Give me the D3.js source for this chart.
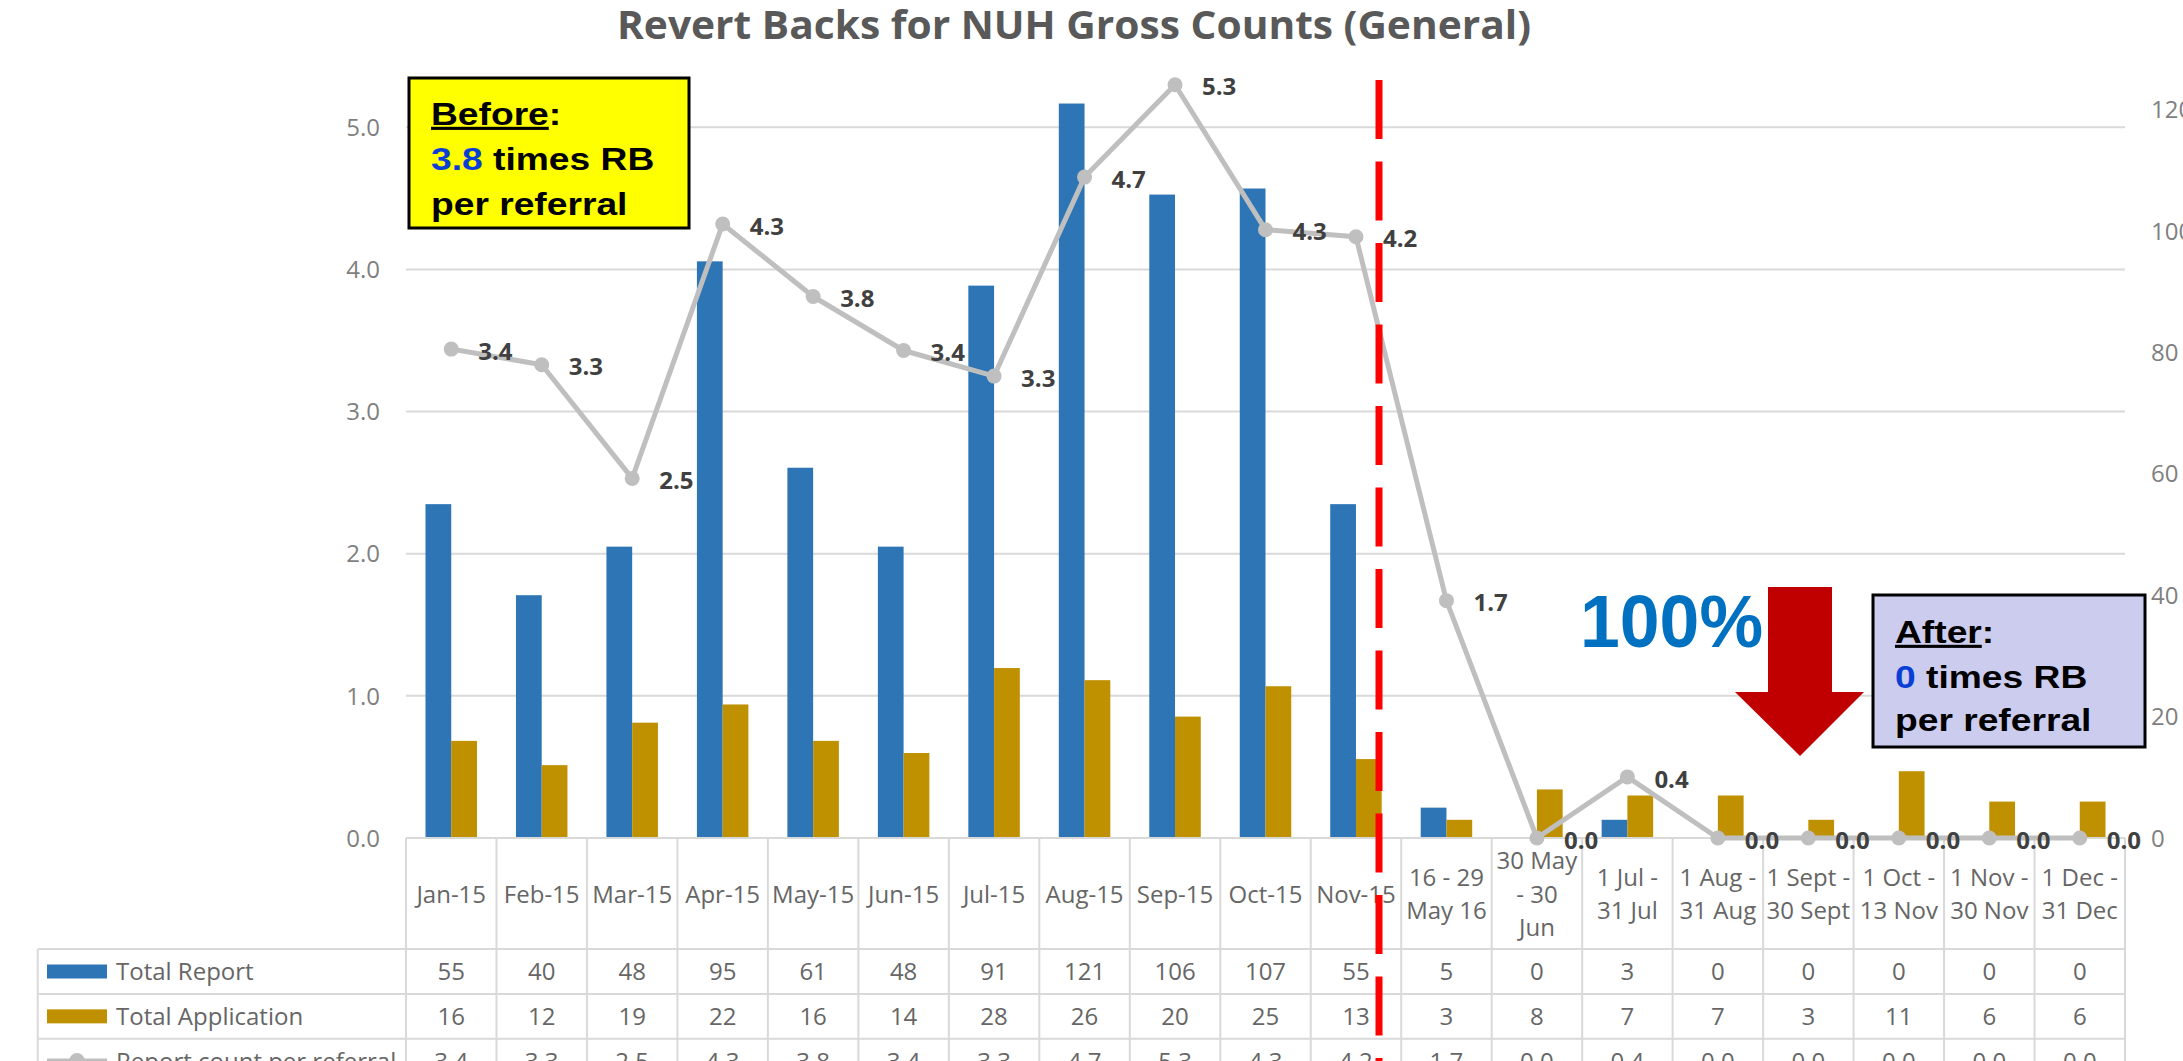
<!DOCTYPE html>
<html>
<head>
<meta charset="utf-8">
<script src="https://cdn.jsdelivr.net/npm/d3@7"></script>
<style>
  html, body { margin: 0; padding: 0; background: #fff; overflow: hidden; }
  svg { display: block; }
</style>
</head>
<body>
<svg id="chart"></svg>
<script>
// Chart data
const categories = [
  ["Jan-15"], ["Feb-15"], ["Mar-15"], ["Apr-15"], ["May-15"], ["Jun-15"],
  ["Jul-15"], ["Aug-15"], ["Sep-15"], ["Oct-15"], ["Nov-15"],
  ["16 - 29", "May 16"], ["30 May", "- 30", "Jun"], ["1 Jul -", "31 Jul"],
  ["1 Aug -", "31 Aug"], ["1 Sept -", "30 Sept"], ["1 Oct -", "13 Nov"],
  ["1 Nov -", "30 Nov"], ["1 Dec -", "31 Dec"]
];
const totalReport = [55, 40, 48, 95, 61, 48, 91, 121, 106, 107, 55, 5, 0, 3, 0, 0, 0, 0, 0];
const totalApplication = [16, 12, 19, 22, 16, 14, 28, 26, 20, 25, 13, 3, 8, 7, 7, 3, 11, 6, 6];
const perReferral = [3.44, 3.33, 2.53, 4.32, 3.81, 3.43, 3.25, 4.65, 5.30, 4.28, 4.23, 1.67, 0, 0.43, 0, 0, 0, 0, 0];
const leftTicks = [0, 1, 2, 3, 4, 5];
const rightTicks = [0, 20, 40, 60, 80, 100, 120];
const seriesNames = ["Total Report", "Total Application", "Report count per referral"];

const W = 2183, H = 1061;
const plotLeft = 406, plotRight = 2125, plotTop = 109.6, plotBottom = 838;
const tableLeft = 37.7;
const rowLines = [949, 994, 1038.7, 1083.4];

const blue = '#2e75b6', gold = '#bf9000', lineGray = '#bfbfbf', gridGray = '#d9d9d9';
const textGray = '#666666';
const tableFont = 'Open Sans, sans-serif';

const svg = d3.select('#chart').attr('width', W).attr('height', H);

// Scales
const x0 = d3.scaleBand()
  .domain(d3.range(categories.length))
  .range([plotLeft, plotRight])
  .paddingInner(0).paddingOuter(0);

const x1 = d3.scaleBand()
  .domain(['report', 'app'])
  .range([0, x0.bandwidth()])
  .paddingInner(0)
  .paddingOuter(0.757);

const yRight = d3.scaleLinear().domain([0, 120]).range([plotBottom, plotTop]);
const yLeft = d3.scaleLinear().domain([0, 5.125]).range([plotBottom, plotTop]);

// Gridlines (left axis)
svg.append('g')
  .selectAll('line')
  .data(leftTicks)
  .enter().append('line')
  .attr('x1', plotLeft).attr('x2', plotRight)
  .attr('y1', d => yLeft(d)).attr('y2', d => yLeft(d))
  .attr('stroke', gridGray).attr('stroke-width', 2);

// Left axis labels
svg.append('g')
  .selectAll('text')
  .data(leftTicks)
  .enter().append('text')
  .attr('x', 380)
  .attr('y', d => yLeft(d))
  .attr('dy', '0.36em')
  .attr('text-anchor', 'end')
  .attr('font-family', tableFont)
  .attr('font-size', 24)
  .attr('fill', '#7f7f7f')
  .text(d => d3.format('.1f')(d));

// Right axis labels (cut off by the page edge)
svg.append('g')
  .selectAll('text')
  .data(rightTicks)
  .enter().append('text')
  .attr('x', 2151)
  .attr('y', d => yRight(d))
  .attr('dy', '0.36em')
  .attr('font-family', tableFont)
  .attr('font-size', 24)
  .attr('fill', '#7f7f7f')
  .text(d => d);

// Bars
const barData = categories.map((c, i) => ({ i, report: totalReport[i], app: totalApplication[i] }));
const groups = svg.append('g')
  .selectAll('g')
  .data(barData)
  .enter().append('g')
  .attr('transform', d => `translate(${x0(d.i)},0)`);

groups.append('rect')
  .attr('x', x1('report'))
  .attr('width', x1.bandwidth())
  .attr('y', d => yRight(d.report))
  .attr('height', d => plotBottom - yRight(d.report))
  .attr('fill', blue);

groups.append('rect')
  .attr('x', x1('app'))
  .attr('width', x1.bandwidth())
  .attr('y', d => yRight(d.app))
  .attr('height', d => plotBottom - yRight(d.app))
  .attr('fill', gold);

// Table grid
const table = svg.append('g').attr('stroke', gridGray).attr('stroke-width', 2);
const bounds = d3.range(categories.length + 1).map(i => plotLeft + i * x0.step());
table.selectAll('.vline')
  .data(bounds)
  .enter().append('line')
  .attr('x1', d => d).attr('x2', d => d)
  .attr('y1', plotBottom).attr('y2', H + 40);
table.append('line')
  .attr('x1', tableLeft).attr('x2', tableLeft)
  .attr('y1', rowLines[0]).attr('y2', H + 40);
table.selectAll('.hline')
  .data(rowLines)
  .enter().append('line')
  .attr('x1', tableLeft).attr('x2', plotRight)
  .attr('y1', d => d).attr('y2', d => d);
table.append('line')
  .attr('x1', plotLeft).attr('x2', plotRight)
  .attr('y1', plotBottom).attr('y2', plotBottom);

// Category labels
const catG = svg.append('g')
  .attr('font-family', tableFont)
  .attr('font-size', 24)
  .attr('fill', textGray)
  .attr('text-anchor', 'middle');
categories.forEach((lines, i) => {
  const cx = x0(i) + x0.bandwidth() / 2;
  const lh = 33.5;
  const y0 = 894 - (lines.length - 1) * lh / 2;
  const t = catG.append('text').attr('x', cx);
  lines.forEach((ln, k) => {
    t.append('tspan').attr('x', cx).attr('y', y0 + k * lh).attr('dy', '0.36em').text(ln);
  });
});

// Table values
const rowCenters = rowLines.slice(0, 3).map((y, k) => (y + rowLines[k + 1]) / 2);
const rowValues = [
  totalReport.map(String),
  totalApplication.map(String),
  perReferral.map(d => d3.format('.1f')(d))
];
rowValues.forEach((vals, r) => {
  svg.append('g')
    .selectAll('text')
    .data(vals)
    .enter().append('text')
    .attr('x', (d, i) => x0(i) + x0.bandwidth() / 2)
    .attr('y', rowCenters[r])
    .attr('dy', '0.36em')
    .attr('text-anchor', 'middle')
    .attr('font-family', tableFont)
    .attr('font-size', 24)
    .attr('fill', textGray)
    .text(d => d);
});

// Legend keys in table
const legend = svg.append('g');
legend.append('rect').attr('x', 47).attr('y', rowCenters[0] - 7).attr('width', 60).attr('height', 14).attr('fill', blue);
legend.append('rect').attr('x', 47).attr('y', rowCenters[1] - 7).attr('width', 60).attr('height', 14).attr('fill', gold);
legend.append('line').attr('x1', 47).attr('x2', 107)
  .attr('y1', rowCenters[2]).attr('y2', rowCenters[2])
  .attr('stroke', lineGray).attr('stroke-width', 5);
legend.append('circle').attr('cx', 77).attr('cy', rowCenters[2]).attr('r', 8).attr('fill', lineGray);
legend.selectAll('text')
  .data(seriesNames)
  .enter().append('text')
  .attr('x', 116)
  .attr('y', (d, i) => rowCenters[i])
  .attr('dy', '0.36em')
  .attr('font-family', tableFont)
  .attr('font-size', 24)
  .attr('fill', textGray)
  .text(d => d);

// Line series (left axis)
const cx = i => x0(i) + x0.bandwidth() / 2;
const line = d3.line()
  .x((d, i) => cx(i))
  .y(d => yLeft(d));

svg.append('path')
  .datum(perReferral)
  .attr('d', line)
  .attr('fill', 'none')
  .attr('stroke', lineGray)
  .attr('stroke-width', 5)
  .attr('stroke-linejoin', 'round');

svg.append('g')
  .selectAll('circle')
  .data(perReferral)
  .enter().append('circle')
  .attr('cx', (d, i) => cx(i))
  .attr('cy', d => yLeft(d))
  .attr('r', 7.5)
  .attr('fill', lineGray);

svg.append('g')
  .selectAll('text')
  .data(perReferral)
  .enter().append('text')
  .attr('x', (d, i) => cx(i) + 27)
  .attr('y', d => yLeft(d) + 2)
  .attr('dy', '0.36em')
  .attr('font-family', tableFont)
  .attr('font-weight', 'bold')
  .attr('font-size', 24)
  .attr('fill', '#404040')
  .text(d => d3.format('.1f')(d));

// Red dashed divider
svg.append('line')
  .attr('x1', 1379).attr('x2', 1379)
  .attr('y1', 80).attr('y2', H + 40)
  .attr('stroke', '#ff0000')
  .attr('stroke-width', 7)
  .attr('stroke-dasharray', '59 22.5');

// Title
svg.append('text')
  .attr('x', 617)
  .attr('y', 39)
  .attr('font-family', tableFont)
  .attr('font-weight', 'bold')
  .attr('font-size', 40)
  .attr('fill', '#595959')
  .attr('textLength', 914)
  .attr('lengthAdjust', 'spacingAndGlyphs')
  .text('Revert Backs for NUH Gross Counts (General)');

// Annotation boxes
function noteBox(x, y, w, h, fill, head, num, baselines) {
  svg.append('rect')
    .attr('x', x).attr('y', y).attr('width', w).attr('height', h)
    .attr('fill', fill).attr('stroke', '#000').attr('stroke-width', 3);
  const g = svg.append('g')
    .attr('transform', `translate(${x + 22},0) scale(1.2,1)`)
    .attr('font-family', 'Liberation Sans, Arial, sans-serif')
    .attr('font-weight', 'bold')
    .attr('font-size', 31)
    .attr('fill', '#000');
  const t1 = g.append('text').attr('x', 0).attr('y', baselines[0]);
  t1.append('tspan').attr('text-decoration', 'underline').text(head);
  t1.append('tspan').text(':');
  const t2 = g.append('text').attr('x', 0).attr('y', baselines[1]);
  t2.append('tspan').attr('fill', '#0a3fd6').text(num);
  t2.append('tspan').text(' times RB');
  g.append('text').attr('x', 0).attr('y', baselines[2]).text('per referral');
}
noteBox(409, 78, 280, 150, '#ffff00', 'Before', '3.8', [125, 170, 215]);
noteBox(1873, 595, 272, 152, '#cccdee', 'After', '0', [643, 688, 731]);

// 100% and arrow
svg.append('text')
  .attr('x', 1580)
  .attr('y', 647)
  .attr('font-family', 'Liberation Sans, Arial, sans-serif')
  .attr('font-weight', 'bold')
  .attr('font-size', 75)
  .attr('fill', '#0070c0')
  .attr('textLength', 183)
  .attr('lengthAdjust', 'spacingAndGlyphs')
  .text('100%');

svg.append('polygon')
  .attr('points', [[1768, 587], [1832, 587], [1832, 692], [1864, 692], [1800, 756], [1735, 692], [1768, 692]].join(' '))
  .attr('fill', '#c00000');
</script>
</body>
</html>
